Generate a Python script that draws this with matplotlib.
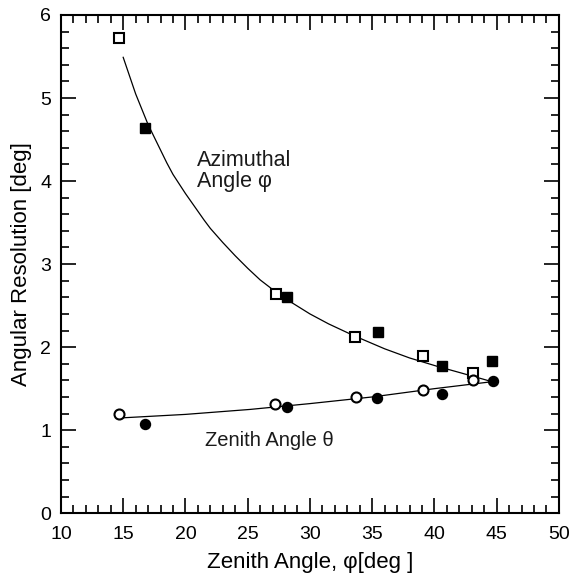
import numpy as np
import matplotlib.pyplot as plt
from matplotlib.ticker import MultipleLocator

plt.rcParams['font.family'] = ['Liberation Sans', 'DejaVu Sans']

# azimuthal angle resolution (open / filled squares)
az_open_x = [14.7, 27.3, 33.6, 39.1, 43.1]
az_open_y = [5.72, 2.64, 2.12, 1.89, 1.69]
az_fill_x = [16.75, 28.15, 35.5, 40.6, 44.6]
az_fill_y = [4.64, 2.60, 2.18, 1.77, 1.83]

# zenith angle resolution (open / filled circles)
ze_open_x = [14.65, 27.2, 33.7, 39.1, 43.1]
ze_open_y = [1.20, 1.31, 1.40, 1.48, 1.61]
ze_fill_x = [16.75, 28.15, 35.4, 40.6, 44.7]
ze_fill_y = [1.07, 1.28, 1.385, 1.43, 1.59]

# fitted curves
az_fit_x = [15.0, 15.5, 16.0, 17.0, 18.5, 19.0, 20.0, 21.5, 22.0, 23.0, 24.0, 25.0, 26.0,
            27.3, 28.5, 30.0, 31.5, 33.5, 36.0, 38.0, 40.2, 42.0, 43.9, 44.6]
az_fit_y = [5.49, 5.27, 5.05, 4.68, 4.22, 4.08, 3.85, 3.53, 3.43, 3.26, 3.10, 2.95, 2.81,
            2.66, 2.54, 2.40, 2.28, 2.14, 1.98, 1.87, 1.77, 1.695, 1.615, 1.585]
ze_fit_x = [14.5, 20.0, 25.2, 30.0, 35.0, 40.0, 44.7]
ze_fit_y = [1.145, 1.19, 1.25, 1.32, 1.40, 1.50, 1.585]

fig = plt.figure(figsize=(5.75, 5.76), dpi=100)
ax = fig.add_axes([0.106, 0.109, 0.866, 0.865])

ax.plot(az_fit_x, az_fit_y, color='black', lw=0.9)
ax.plot(ze_fit_x, ze_fit_y, color='black', lw=0.9)

ax.plot(az_open_x, az_open_y, 's', ms=7.5, mfc='white', mec='black', mew=1.5, ls='none')
ax.plot(az_fill_x, az_fill_y, 's', ms=7.5, mfc='black', mec='black', ls='none')
ax.plot(ze_open_x, ze_open_y, 'o', ms=7.2, mfc='white', mec='black', mew=1.5, ls='none')
ax.plot(ze_fill_x, ze_fill_y, 'o', ms=7.2, mfc='black', mec='black', ls='none')

ax.text(20.9, 4.12, 'Azimuthal\nAngle φ', fontsize=15.5, linespacing=1.0, va='center', color='#1a1a1a')
ax.text(21.6, 0.88, 'Zenith Angle θ', fontsize=14.5, va='center', color='#1a1a1a')

ax.set_xlim(10, 50)
ax.set_ylim(0, 6)
ax.xaxis.set_major_locator(MultipleLocator(5))
ax.xaxis.set_minor_locator(MultipleLocator(1))
ax.yaxis.set_major_locator(MultipleLocator(1))
ax.yaxis.set_minor_locator(MultipleLocator(0.2))
ax.tick_params(which='both', direction='in', top=True, right=True, width=1.2, labelsize=14)
ax.tick_params(which='major', length=11)
ax.tick_params(which='minor', length=5.5)
ax.tick_params(axis='x', which='major', pad=9)
ax.tick_params(axis='y', which='major', pad=7)
for s in ax.spines.values():
    s.set_linewidth(1.5)

ax.set_xlabel('Zenith Angle, φ[deg ]', fontsize=16, labelpad=7)
ax.set_ylabel('Angular Resolution [deg]', fontsize=16, labelpad=6)

plt.savefig('out.png', dpi=100)
